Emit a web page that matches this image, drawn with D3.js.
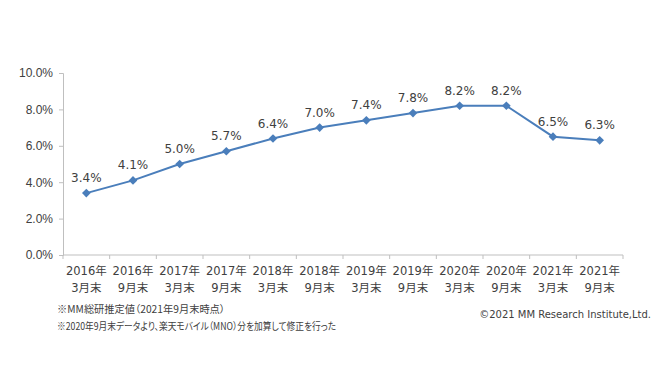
<!DOCTYPE html>
<html>
<head>
<meta charset="utf-8">
<script src="https://cdn.jsdelivr.net/npm/d3@7"></script>
<style>
  body { margin: 0; background: #fff; }
  svg { display: block; font-family: "DejaVu Sans", Verdana, "Noto Sans CJK JP", sans-serif; }
</style>
</head>
<body>
<div id="wrapper"></div>
<script>
const years = ["2016年", "2016年", "2017年", "2017年", "2018年", "2018年", "2019年", "2019年", "2020年", "2020年", "2021年", "2021年"]
const months = ["3月末", "9月末", "3月末", "9月末", "3月末", "9月末", "3月末", "9月末", "3月末", "9月末", "3月末", "9月末"]
const shares = [3.4, 4.1, 5.0, 5.7, 6.4, 7.0, 7.4, 7.8, 8.2, 8.2, 6.5, 6.3]
const yTicks = [0, 2, 4, 6, 8, 10]
const notes = ["※MM総研推定値（2021年9月末時点）", "※2020年9月末データより、楽天モバイル（MNO）分を加算して修正を行った"]
const credit = "©2021 MM Research Institute,Ltd."

const data = shares.map((v, i) => ({ idx: i, year: years[i], month: months[i], value: v }))

const dimensions = {
  width: 665,
  height: 374,
  margins: { top: 73, right: 42, bottom: 119, left: 63 },
}
dimensions.boundedWidth = dimensions.width - dimensions.margins.left - dimensions.margins.right
dimensions.boundedHeight = dimensions.height - dimensions.margins.top - dimensions.margins.bottom

// rendered widths of the two footnote lines
const noteWidths = [168, 279]

const wrapper = d3.select("#wrapper")
  .append("svg")
    .attr("width", dimensions.width)
    .attr("height", dimensions.height)

const bounds = wrapper.append("g")
  .attr("transform", `translate(${dimensions.margins.left},${dimensions.margins.top})`)

const xScale = d3.scaleBand()
  .domain(data.map(d => d.idx))
  .range([0, dimensions.boundedWidth])

const yScale = d3.scaleLinear()
  .domain([0, 10])
  .range([dimensions.boundedHeight, 0])

const textColor = "#404040"
const axisColor = "#bfbfbf"

// y axis
const yAxis = bounds.append("g")
  .call(d3.axisLeft(yScale).tickValues(yTicks).tickSize(4).tickPadding(6).tickFormat(d => d.toFixed(1) + "%"))
yAxis.select(".domain").attr("stroke", axisColor)
yAxis.selectAll(".tick line").attr("stroke", axisColor)
yAxis.selectAll("text").attr("fill", textColor).style("font-size", "12px")

// x axis (category boundaries as ticks)
const xAxis = bounds.append("g")
  .attr("transform", `translate(0,${dimensions.boundedHeight})`)
xAxis.append("line")
  .attr("x1", 0).attr("x2", dimensions.boundedWidth)
  .attr("stroke", axisColor)
xAxis.selectAll(".sep")
  .data(d3.range(data.length + 1))
  .join("line")
    .attr("x1", i => i < data.length ? xScale(i) : dimensions.boundedWidth)
    .attr("x2", i => i < data.length ? xScale(i) : dimensions.boundedWidth)
    .attr("y1", 0).attr("y2", 4)
    .attr("stroke", axisColor)
const xLabels = xAxis.selectAll(".xl")
  .data(data)
  .join("text")
    .attr("x", d => xScale(d.idx) + xScale.bandwidth() / 2)
    .attr("text-anchor", "middle")
    .attr("fill", textColor)
    .style("font-size", "11.5px")
xLabels.append("tspan").attr("x", d => xScale(d.idx) + xScale.bandwidth() / 2).attr("y", 20).text(d => d.year)
xLabels.append("tspan").attr("x", d => xScale(d.idx) + xScale.bandwidth() / 2).attr("y", 37).text(d => d.month)

// line
const lineGenerator = d3.line()
  .x(d => xScale(d.idx) + xScale.bandwidth() / 2)
  .y(d => yScale(d.value))

bounds.append("path")
  .attr("d", lineGenerator(data))
  .attr("fill", "none")
  .attr("stroke", "#4a7ebb")
  .attr("stroke-width", 2)

bounds.selectAll(".marker")
  .data(data)
  .join("path")
    .attr("d", d3.symbol(d3.symbolDiamond2, 48))
    .attr("transform", d => `translate(${xScale(d.idx) + xScale.bandwidth() / 2},${yScale(d.value)})`)
    .attr("fill", "#4a7ebb")

bounds.selectAll(".val")
  .data(data)
  .join("text")
    .attr("x", d => xScale(d.idx) + xScale.bandwidth() / 2)
    .attr("y", d => yScale(d.value) - 11)
    .attr("text-anchor", "middle")
    .attr("fill", textColor)
    .style("font-size", "12px")
    .text(d => d.value.toFixed(1) + "%")

// notes
wrapper.selectAll(".note")
  .data(notes)
  .join("text")
    .attr("x", 57)
    .attr("y", (d, i) => 313 + i * 17)
    .attr("textLength", (d, i) => noteWidths[i])
    .attr("lengthAdjust", "spacingAndGlyphs")
    .attr("fill", textColor)
    .style("font-size", "10px")
    .style("font-family", "'Noto Sans CJK JP', sans-serif")
    .style("font-feature-settings", "'palt' 1")
    .text(d => d)

wrapper.append("text")
  .attr("x", 651)
  .attr("y", 318)
  .attr("text-anchor", "end")
  .attr("fill", textColor)
  .style("font-size", "10px")
  .text(credit)
</script>
</body>
</html>
